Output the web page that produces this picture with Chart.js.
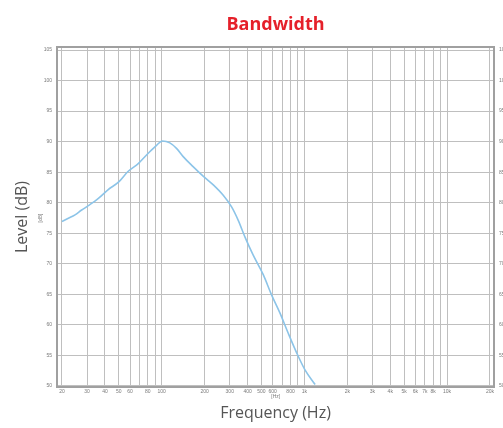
<!DOCTYPE html>
<html>
<head>
<meta charset="utf-8">
<script src="https://cdn.jsdelivr.net/npm/chart.js@4"></script>
<style>
  html,body{margin:0;padding:0;background:#fff}
  #wrap{width:503px;height:428px}
</style>
</head>
<body>
<div id="wrap"><canvas id="c" width="503" height="428"></canvas></div>
<script>
// Bandwidth response — log frequency axis, level in dB.
const freq  = [20, 22, 24.7, 27.5, 30.6, 36, 42, 50, 58, 68.5, 80.5, 92, 101, 114, 127, 142, 166, 196, 230, 270, 309, 344, 383, 438, 515, 589, 675, 771, 883, 1010, 1190];
const level = [76.9, 77.4, 78.0, 78.8, 79.5, 80.7, 82.1, 83.4, 85.1, 86.4, 88.1, 89.4, 90.1, 89.8, 88.9, 87.5, 85.9, 84.3, 82.9, 81.2, 79.3, 77.1, 74.4, 71.4, 68.2, 64.9, 61.9, 58.6, 55.4, 52.6, 50.2];

const gridFreqs = [20,30,40,50,60,70,80,90,100,200,300,400,500,600,700,800,900,1000,2000,3000,4000,5000,6000,7000,8000,9000,10000,20000];
const freqLabels = {20:"20",30:"30",40:"40",50:"50",60:"60",80:"80",100:"100",200:"200",300:"300",400:"400",500:"500",600:"600",800:"800",1000:"1k",2000:"2k",3000:"3k",4000:"4k",5000:"5k",6000:"6k",7000:"7k",8000:"8k",10000:"10k",20000:"20k"};
const levelTicks = [50,55,60,65,70,75,80,85,90,95,100,105];

const GRID = "#bfbfbf", FRAME = "#a0a0a0", INK = "#7a7a7a", LINE = "#8cc4e8";
const tiny = {family:"Liberation Sans, Arial, sans-serif", size:5};

const frame = {
  id:"frame",
  afterDraw(chart){
    const {ctx, chartArea:a} = chart;
    ctx.save();
    ctx.strokeStyle = FRAME; ctx.lineWidth = 2;
    ctx.strokeRect(a.left, a.top, a.right - a.left, a.bottom - a.top);
    ctx.fillStyle = INK; ctx.font = "5px Liberation Sans, Arial, sans-serif";
    ctx.textAlign = "center"; ctx.textBaseline = "middle";
    ctx.fillText("[Hz]", chart.scales.x.getPixelForValue(630), a.bottom + 10);
    ctx.translate(41, (a.top + a.bottom) / 2 + 1);
    ctx.rotate(-Math.PI / 2);
    ctx.fillText("[dB]", 0, 0);
    ctx.restore();
  }
};

new Chart(document.getElementById("c"), {
  type:"scatter",
  data:{datasets:[{
    data: freq.map((f,i)=>({x:f, y:level[i]})),
    showLine:true, borderColor:LINE, borderWidth:1.6, pointRadius:0, cubicInterpolationMode:"monotone"
  }]},
  options:{
    responsive:false, animation:false,
    layout:{padding:{left:0, right:0, top:0, bottom:0}},
    plugins:{
      legend:{display:false}, tooltip:{enabled:false},
      title:{display:true, text:"Bandwidth", color:"#e5202a", fullSize:false,
        font:{family:"Open Sans, sans-serif", size:18, weight:"bold"}, padding:{top:14, bottom:11.4}}
    },
    scales:{
      x:{type:"logarithmic", min:18.46, max:21340,
        afterBuildTicks:s=>{ s.ticks = gridFreqs.map(v=>({value:v})); },
        afterFit:s=>{ s.height = 41; },
        grid:{color:GRID, lineWidth:1, drawTicks:false},
        border:{display:false},
        ticks:{autoSkip:false, maxRotation:0, padding:2, color:INK, font:tiny,
          callback:v=>freqLabels[v] || ""},
        title:{display:true, text:"Frequency (Hz)", color:"#555",
          font:{family:"Open Sans, sans-serif", size:16}, padding:{top:0, bottom:5.4}}
      },
      y:{type:"linear", min:49.8, max:105.5,
        afterBuildTicks:s=>{ s.ticks = levelTicks.map(v=>({value:v})); },
        afterFit:s=>{ s.width = 57; },
        grid:{color:GRID, lineWidth:1, drawTicks:false},
        border:{display:false},
        ticks:{padding:5, color:INK, font:tiny},
        title:{display:true, text:"Level (dB)", color:"#555",
          font:{family:"Open Sans, sans-serif", size:16}, padding:{top:12.4, bottom:0}}
      },
      y2:{type:"linear", position:"right", min:49.8, max:105.5,
        afterBuildTicks:s=>{ s.ticks = levelTicks.map(v=>({value:v})); },
        afterFit:s=>{ s.width = 9; },
        grid:{display:false, drawTicks:false}, border:{display:false},
        ticks:{padding:5, color:INK, font:tiny}
      }
    }
  },
  plugins:[frame]
});
</script>
</body>
</html>
